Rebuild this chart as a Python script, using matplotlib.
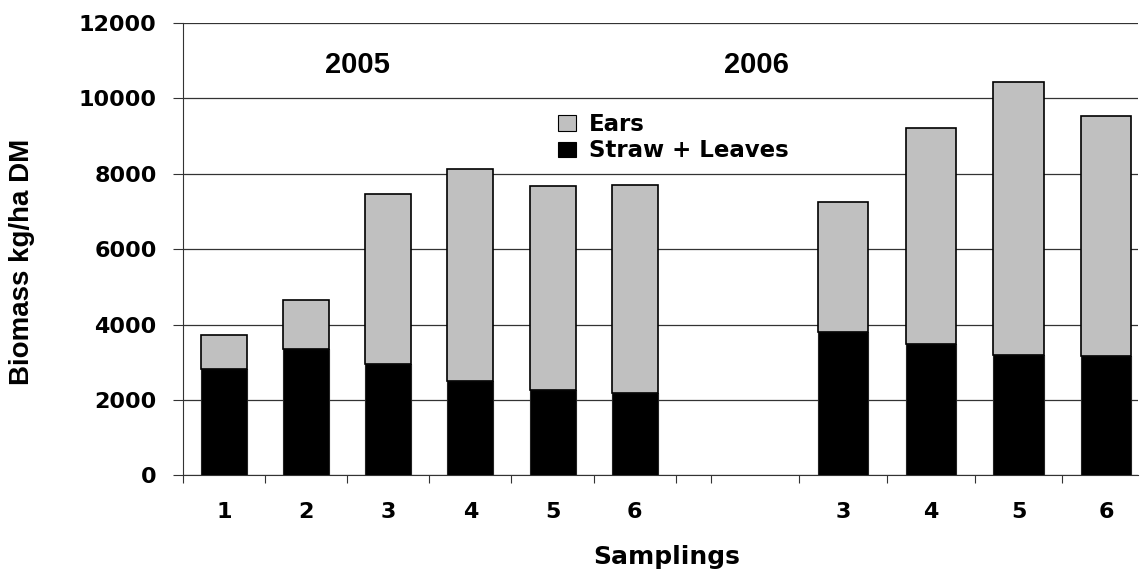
import numpy as np
import matplotlib.pyplot as plt
from matplotlib.patches import Patch

# values (kg/ha DM)
cats05 = ["1", "2", "3", "4", "5", "6"]
straw05 = [2830, 3350, 2950, 2510, 2260, 2180]
ears05 = [880, 1300, 4520, 5610, 5420, 5530]

cats06 = ["3", "4", "5", "6"]
straw06 = [3810, 3480, 3200, 3170]
ears06 = [3450, 5740, 7240, 6370]

years = ["2005", "2006"]

EARS_COL = "#C0C0C0"
STRAW_COL = "#000000"
TICKFONT = "DejaVu Sans"

# layout: 2005 slots are one unit wide, the 2006 block sits in slightly wider slots
slot06 = 1.07
start06 = 6.43
x05 = np.arange(len(cats05)) + 0.5
x06 = start06 + (np.arange(len(cats06)) + 1.5) * slot06
edges = list(np.arange(len(cats05) + 1)) + list(start06 + np.arange(len(cats06) + 1) * slot06)

fig = plt.figure(figsize=(11.4, 5.71), dpi=100)
ax = fig.add_axes([183 / 1140, 1 - 475.3 / 571, (1138 - 183) / 1140, (475.3 - 23) / 571])

ax.bar(x05, straw05, width=0.56, color=STRAW_COL, edgecolor="#222222", linewidth=0.8, zorder=3)
ax.bar(x05, ears05, bottom=straw05, width=0.56, color=EARS_COL, edgecolor="#000000", linewidth=1.2, zorder=3)
ax.bar(x06, straw06, width=0.61, color=STRAW_COL, edgecolor="#222222", linewidth=0.8, zorder=3)
ax.bar(x06, ears06, bottom=straw06, width=0.61, color=EARS_COL, edgecolor="#000000", linewidth=1.2, zorder=3)

ax.set_xlim(0, 11.63)
ax.set_ylim(0, 12000)
ax.set_yticks(np.arange(0, 12001, 2000))
ax.yaxis.grid(True, color="#333333", linewidth=0.9, zorder=0)
ax.set_axisbelow(True)

ax.set_xticks(edges)
ax.set_xticklabels([])
ax.set_xticks(list(x05) + list(x06), minor=True)
ax.set_xticklabels(cats05 + cats06, minor=True)
ax.tick_params(axis="x", which="major", length=6, width=0.8, direction="out", color="#333333")
ax.tick_params(axis="x", which="minor", length=0, pad=19)
ax.tick_params(axis="y", length=7, width=0.8, direction="out", pad=12, color="#333333")
for lab in ax.get_xticklabels(minor=True) + ax.get_yticklabels():
    lab.set_fontfamily(TICKFONT)
    lab.set_fontweight("bold")
    lab.set_fontsize(16)

for s in ["top", "right"]:
    ax.spines[s].set_visible(False)
ax.spines["left"].set_color("#333333")
ax.spines["bottom"].set_color("#333333")

# year headers
ax.text((358 - 183) / 82.3, 10890, years[0], ha="center", va="center",
        fontsize=21, fontweight="bold", family="Liberation Sans")
ax.text((758 - 183) / 82.3, 10890, years[1], ha="center", va="center",
        fontsize=21, fontweight="bold", family="Liberation Sans")

handles = [Patch(facecolor=EARS_COL, edgecolor="#000000", linewidth=0.8, label="Ears"),
           Patch(facecolor=STRAW_COL, edgecolor="#000000", linewidth=0.8, label="Straw + Leaves")]
fig.legend(handles=handles, loc="upper left", bbox_to_anchor=(558 / 1140, 1 - 113 / 571),
           frameon=False, handlelength=0.8, handleheight=0.65, handletextpad=0.55,
           labelspacing=0.15, borderaxespad=0, borderpad=0,
           prop={"family": TICKFONT, "weight": "bold", "size": 16.5})

fig.text(667 / 1140, 1 - 557 / 571, "Samplings", ha="center", va="center",
         fontsize=18, fontweight="bold", family=TICKFONT)
fig.text(22 / 1140, 1 - 262 / 571, "Biomass kg/ha DM", ha="center", va="center", rotation=90,
         fontsize=20, fontweight="bold", family="Liberation Sans")

fig.savefig("out.png", dpi=100)
